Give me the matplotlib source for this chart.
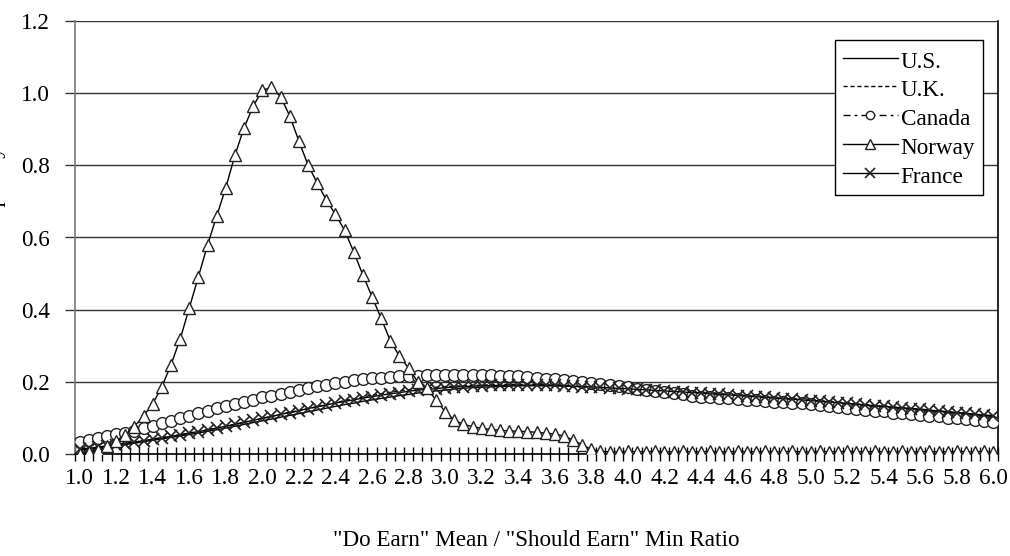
import numpy as np
import matplotlib
matplotlib.use("Agg")
import matplotlib.pyplot as plt
from matplotlib.ticker import FixedLocator, FixedFormatter

plt.rcParams['font.family'] = ['Liberation Serif', 'DejaVu Serif']

# x categories: 1.00 .. 6.00 step 0.05
ratio = [round(1.0 + 0.05 * i, 2) for i in range(101)]
xtick_labels = ["%.1f" % (1.0 + 0.2 * k) for k in range(26)]

us = [0.010, 0.013, 0.016, 0.019, 0.023, 0.026, 0.030, 0.034, 0.038, 0.042,
      0.046, 0.050, 0.054, 0.058, 0.063, 0.067, 0.072, 0.077, 0.082, 0.087,
      0.092, 0.097, 0.102, 0.107, 0.112, 0.117, 0.122, 0.127, 0.132, 0.137,
      0.141, 0.146, 0.150, 0.154, 0.158, 0.162, 0.165, 0.169, 0.172, 0.175,
      0.177, 0.180, 0.182, 0.184, 0.185, 0.186, 0.187, 0.188, 0.189, 0.189,
      0.189, 0.189, 0.189, 0.188, 0.188, 0.187, 0.186, 0.184, 0.182, 0.180,
      0.179, 0.177, 0.176, 0.174, 0.173, 0.171, 0.170, 0.168, 0.167, 0.165,
      0.163, 0.162, 0.160, 0.158, 0.157, 0.155, 0.153, 0.151, 0.150, 0.148,
      0.146, 0.144, 0.142, 0.140, 0.138, 0.136, 0.134, 0.132, 0.130, 0.128,
      0.126, 0.124, 0.122, 0.120, 0.117, 0.115, 0.113, 0.111, 0.108, 0.106,
      0.104]

uk = [0.013, 0.016, 0.019, 0.022, 0.026, 0.029, 0.033, 0.037, 0.041, 0.045,
      0.049, 0.053, 0.058, 0.062, 0.067, 0.072, 0.077, 0.082, 0.088, 0.093,
      0.099, 0.104, 0.110, 0.115, 0.120, 0.126, 0.131, 0.137, 0.142, 0.148,
      0.153, 0.158, 0.163, 0.167, 0.171, 0.175, 0.178, 0.181, 0.183, 0.185,
      0.187, 0.188, 0.189, 0.190, 0.191, 0.192, 0.192, 0.193, 0.193, 0.193,
      0.193, 0.192, 0.192, 0.191, 0.191, 0.190, 0.189, 0.188, 0.187, 0.186,
      0.185, 0.184, 0.182, 0.181, 0.179, 0.177, 0.176, 0.174, 0.172, 0.170,
      0.168, 0.166, 0.164, 0.162, 0.160, 0.158, 0.156, 0.154, 0.152, 0.150,
      0.148, 0.146, 0.144, 0.142, 0.140, 0.138, 0.136, 0.134, 0.132, 0.130,
      0.128, 0.126, 0.124, 0.122, 0.119, 0.117, 0.115, 0.113, 0.110, 0.108,
      0.106]

canada = [0.034, 0.039, 0.043, 0.050, 0.055, 0.059, 0.065, 0.071, 0.078, 0.085,
          0.091, 0.099, 0.105, 0.113, 0.120, 0.127, 0.133, 0.139, 0.145, 0.151,
          0.157, 0.162, 0.167, 0.172, 0.178, 0.183, 0.188, 0.192, 0.196, 0.200,
          0.204, 0.207, 0.210, 0.212, 0.214, 0.215, 0.216, 0.217, 0.218, 0.218,
          0.218, 0.219, 0.219, 0.219, 0.218, 0.218, 0.217, 0.216, 0.215, 0.213,
          0.211, 0.209, 0.207, 0.205, 0.202, 0.199, 0.197, 0.194, 0.191, 0.188,
          0.185, 0.181, 0.178, 0.175, 0.172, 0.169, 0.165, 0.162, 0.159, 0.157,
          0.156, 0.154, 0.152, 0.150, 0.149, 0.147, 0.145, 0.144, 0.142, 0.140,
          0.138, 0.135, 0.133, 0.130, 0.128, 0.125, 0.123, 0.120, 0.118, 0.115,
          0.113, 0.111, 0.108, 0.106, 0.104, 0.101, 0.099, 0.097, 0.095, 0.092,
          0.090]

norway = [0.000, 0.005, 0.012, 0.022, 0.035, 0.053, 0.076, 0.106, 0.139, 0.186,
          0.247, 0.318, 0.404, 0.491, 0.579, 0.659, 0.738, 0.828, 0.904, 0.964,
          1.008, 1.016, 0.990, 0.937, 0.867, 0.801, 0.751, 0.704, 0.664, 0.620,
          0.560, 0.496, 0.436, 0.376, 0.314, 0.271, 0.238, 0.200, 0.182, 0.150,
          0.117, 0.094, 0.082, 0.076, 0.071, 0.068, 0.066, 0.064, 0.063, 0.062,
          0.060, 0.058, 0.055, 0.050, 0.039, 0.025, 0.013, 0.007, 0.006, 0.006,
          0.007, 0.006, 0.006, 0.007, 0.006, 0.006, 0.007, 0.006, 0.006, 0.007,
          0.006, 0.006, 0.007, 0.006, 0.006, 0.007, 0.006, 0.006, 0.007, 0.006,
          0.006, 0.007, 0.006, 0.006, 0.007, 0.006, 0.006, 0.007, 0.006, 0.006,
          0.007, 0.006, 0.006, 0.007, 0.006, 0.006, 0.007, 0.006, 0.006, 0.007,
          0.006]

france = [0.013, 0.016, 0.019, 0.022, 0.026, 0.029, 0.033, 0.037, 0.041, 0.045,
          0.049, 0.053, 0.058, 0.062, 0.067, 0.072, 0.077, 0.082, 0.088, 0.093,
          0.099, 0.104, 0.110, 0.115, 0.120, 0.126, 0.131, 0.136, 0.141, 0.146,
          0.150, 0.155, 0.159, 0.163, 0.167, 0.170, 0.174, 0.177, 0.179, 0.181,
          0.184, 0.185, 0.187, 0.188, 0.189, 0.190, 0.190, 0.191, 0.191, 0.191,
          0.191, 0.190, 0.190, 0.189, 0.188, 0.187, 0.186, 0.185, 0.183, 0.182,
          0.181, 0.179, 0.178, 0.176, 0.175, 0.173, 0.172, 0.170, 0.169, 0.167,
          0.165, 0.164, 0.162, 0.160, 0.159, 0.157, 0.155, 0.153, 0.152, 0.150,
          0.148, 0.146, 0.144, 0.142, 0.140, 0.138, 0.136, 0.134, 0.132, 0.130,
          0.128, 0.126, 0.124, 0.122, 0.119, 0.117, 0.115, 0.113, 0.110, 0.108,
          0.106]

for s in (us, uk, canada, norway, france):
    assert len(s) == len(ratio), len(s)

FS = 16.7
fig = plt.figure(figsize=(10.10, 5.56), dpi=100)
ax = fig.add_axes([75 / 1010, 1 - 454 / 556, (998 - 75) / 1010, (454 - 21) / 556])

lw = 1.0
ax.plot(ratio, us, color='black', lw=lw, label='U.S.', zorder=3)
ax.plot(ratio, uk, color='black', lw=lw, ls=(0, (3, 2)), label='U.K.', zorder=3)
ax.plot(ratio, canada, color='black', lw=lw, ls=(0, (5, 3, 2, 3)), marker='o',
        ms=8.5, mfc='white', mec='#222222', mew=1.0, label='Canada', zorder=4)
ax.plot(ratio, norway, color='black', lw=lw, marker='^', ms=9, mfc='white',
        mec='#222222', mew=1.0, label='Norway', zorder=5)
ax.plot(ratio, france, color='black', lw=lw, marker='x', ms=8, mec='#222222',
        mew=1.2, label='France', zorder=4)

ax.set_xlim(1.0 - 0.025, 6.0 + 0.025)
ax.set_ylim(0, 1.2)

# y axis
yt = [0.0, 0.2, 0.4, 0.6, 0.8, 1.0, 1.2]
ax.set_yticks(yt)
ax.set_yticklabels(["%.1f" % v for v in yt])
ax.yaxis.grid(True, color='#333333', lw=1.0)
ax.tick_params(axis='y', direction='out', length=7, width=1.0, color='#333333',
               pad=11, labelsize=FS)

# x axis: labels at category centres, tick marks between categories
major_pos = [1.0 + 0.2 * k for k in range(26)]
ax.xaxis.set_major_locator(FixedLocator(major_pos))
ax.xaxis.set_major_formatter(FixedFormatter(xtick_labels))
minor_pos = [0.975 + 0.05 * k for k in range(102)]
ax.xaxis.set_minor_locator(FixedLocator(minor_pos))
ax.tick_params(axis='x', which='major', length=0, pad=10, labelsize=FS)
ax.tick_params(axis='x', which='minor', direction='inout', length=10, width=1.0,
               color='black')

ax.spines['top'].set_visible(False)
ax.spines['left'].set_color('#777777')
ax.spines['left'].set_linewidth(1.2)
ax.spines['right'].set_color('black')
ax.spines['right'].set_linewidth(1.2)
ax.spines['bottom'].set_color('black')
ax.spines['bottom'].set_linewidth(1.2)
ax.set_axisbelow(True)

leg = ax.legend(loc='upper right', bbox_to_anchor=(0.9837, 0.956), fontsize=FS,
                frameon=True, fancybox=False, edgecolor='black', framealpha=1,
                handlelength=2.37, handletextpad=0.14, labelspacing=0.16,
                handleheight=1.24, borderpad=0.33, borderaxespad=0, numpoints=1)
leg.get_frame().set_linewidth(1.0)
for h, ms in zip(leg.legend_handles, [0, 0, 6, 7.5, 7.5]):
    if ms:
        h.set_markersize(ms)

fig.text(536 / 1010, 1 - 541 / 556, '"Do Earn" Mean / "Should Earn" Min Ratio',
         ha='center', va='center', fontsize=FS)
fig.text(6 / 1010, 1 - 237 / 556, 'Relative Frequency', rotation=90,
         ha='right', va='center', fontsize=FS)

fig.savefig('out.png', dpi=100, facecolor='white')
